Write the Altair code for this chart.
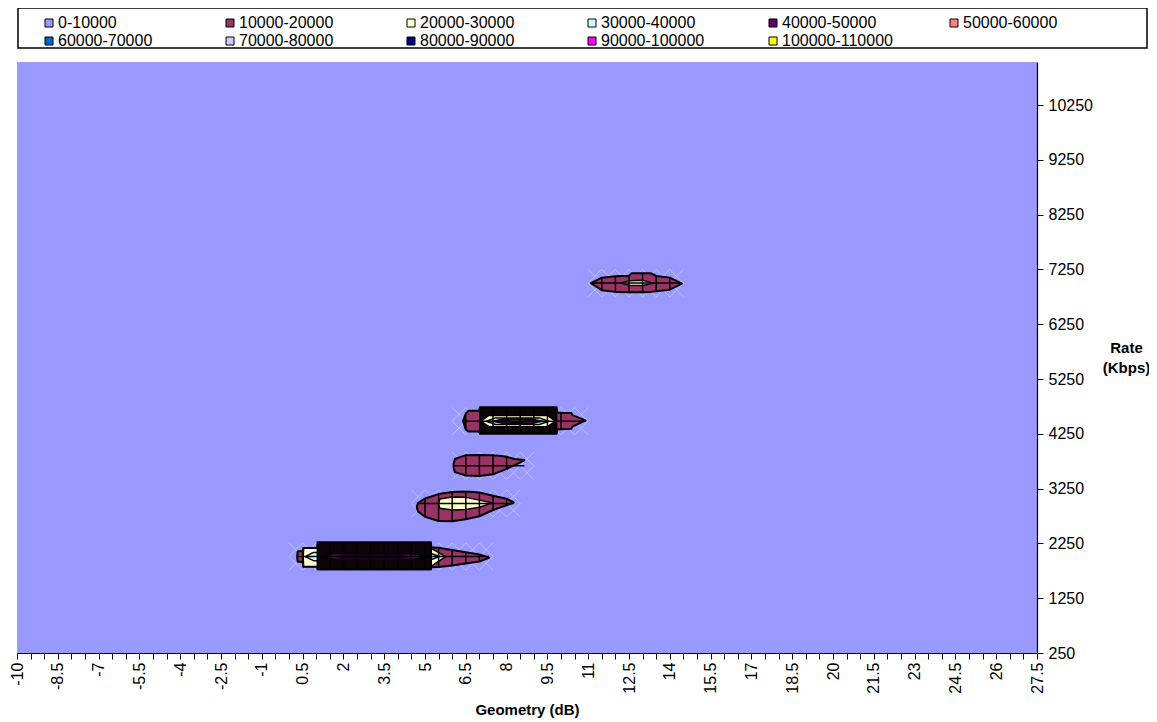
import altair as alt
import pandas as pd

# ---------------- legend bands ----------------
band_labels = ["0-10000", "10000-20000", "20000-30000", "30000-40000", "40000-50000",
               "50000-60000", "60000-70000", "70000-80000", "80000-90000",
               "90000-100000", "100000-110000"]
band_colors = ["#9999FF", "#993366", "#FFFFCC", "#CCFFFF", "#660066", "#FF8080",
               "#0066CC", "#CCCCFF", "#000080", "#FF00FF", "#FFFF00"]

# ---------------- axes ----------------
x_tick_values = [-10 + 0.5 * i for i in range(76)]
y_tick_values = [250, 1250, 2250, 3250, 4250, 5250, 6250, 7250, 8250, 9250, 10250]

# ---------------- contour shapes (x, upper Kbps, lower Kbps) ----------------
# blob at ~7000 Kbps
s1_outer_x = [11.1, 11.5, 12.0, 12.5, 12.6, 13.0, 13.3, 13.5, 14.0, 14.45]
s1_outer_t = [7000, 7100, 7125, 7135, 7180, 7180, 7180, 7130, 7100, 6990]
s1_outer_b = [7000, 6870, 6840, 6835, 6835, 6835, 6840, 6850, 6880, 6990]
s1_cream_x = [12.2, 12.5, 13.0, 13.4]
s1_cream_t = [7000, 7045, 7050, 7000]
s1_cream_b = [7000, 6960, 6955, 7000]

# blob at ~4500 Kbps
s2_outer_x = [6.4, 6.5, 6.6, 6.98, 7.02, 7.5, 8.0, 8.5, 9.0, 9.5, 9.83, 9.87, 10.0, 10.38, 10.42, 10.9]
s2_outer_t = [4485, 4620, 4670, 4670, 4730, 4730, 4730, 4730, 4730, 4730, 4730, 4640, 4635, 4630, 4590, 4495]
s2_outer_b = [4485, 4330, 4290, 4290, 4255, 4255, 4255, 4255, 4255, 4255, 4255, 4330, 4335, 4340, 4380, 4495]
s2_body_x = [7.02, 9.83]
s2_body_t = [4730, 4730]
s2_body_b = [4255, 4255]
s2_cream_x = [7.05, 7.35, 9.5, 9.8]
s2_cream_t = [4480, 4585, 4585, 4480]
s2_cream_b = [4480, 4380, 4380, 4480]
s2_cyan_x = [7.25, 7.6, 9.2, 9.55]
s2_cyan_t = [4480, 4540, 4540, 4480]
s2_cyan_b = [4480, 4420, 4420, 4480]
s2_purple_x = [7.5, 7.9, 8.9, 9.3]
s2_purple_t = [4480, 4520, 4520, 4480]
s2_purple_b = [4480, 4440, 4440, 4480]
s2_salmon_x = [7.9, 8.2, 8.6, 8.9]
s2_salmon_t = [4480, 4502, 4502, 4480]
s2_salmon_b = [4480, 4458, 4458, 4480]

# blob at ~3700 Kbps
s3_outer_x = [6.05, 6.1, 6.5, 7.0, 7.5, 7.8, 8.0, 8.3, 8.65]
s3_outer_t = [3700, 3790, 3860, 3865, 3860, 3845, 3830, 3790, 3770]
s3_outer_b = [3630, 3550, 3490, 3480, 3510, 3570, 3610, 3680, 3765]

# blob at ~3000 Kbps
s4_outer_x = [4.7, 4.75, 5.0, 5.5, 6.0, 6.5, 7.0, 7.5, 8.0, 8.26]
s4_outer_t = [2920, 2990, 3070, 3150, 3190, 3195, 3180, 3120, 3065, 3000]
s4_outer_b = [2900, 2830, 2735, 2660, 2655, 2690, 2745, 2860, 2945, 2995]
s4_cream_x = [5.5, 5.55, 6.0, 6.5, 7.0, 7.45]
s4_cream_t = [2990, 3060, 3095, 3090, 3040, 2990]
s4_cream_b = [2960, 2890, 2860, 2870, 2910, 2985]

# blob at ~2000 Kbps
s5_outer_x = [0.3, 0.32, 0.5, 0.52, 1.03, 1.07, 1.5, 2.0, 2.5, 3.0, 3.5, 4.0, 4.5, 5.0, 5.2, 5.24, 5.5, 6.0, 6.5, 7.0, 7.35]
s5_outer_t = [2010, 2105, 2105, 2165, 2165, 2265, 2265, 2265, 2265, 2265, 2265, 2265, 2265, 2265, 2265, 2180, 2170, 2130, 2090, 2050, 1990]
s5_outer_b = [2010, 1915, 1915, 1825, 1825, 1780, 1780, 1780, 1780, 1780, 1780, 1780, 1780, 1780, 1780, 1815, 1820, 1848, 1885, 1920, 1985]
s5_cream_x = [0.52, 0.54, 1.1, 5.2, 5.3, 5.75]
s5_cream_t = [2010, 2160, 2160, 2160, 2140, 2010]
s5_cream_b = [2010, 1830, 1830, 1830, 1860, 2005]
s5_cyan_x = [0.6, 0.9, 5.1, 5.55]
s5_cyan_t = [2010, 2085, 2085, 2010]
s5_cyan_b = [2010, 1935, 1935, 2010]
s5_body_x = [1.05, 5.22]
s5_body_t = [2265, 2265]
s5_body_b = [1780, 1780]
s5_purple_x = [1.2, 1.6, 4.6, 5.0]
s5_purple_t = [2010, 2060, 2060, 2010]
s5_purple_b = [2010, 1960, 1960, 2010]
s5_navy_x = [1.8, 2.2, 4.0, 4.4]
s5_navy_t = [2010, 2030, 2030, 2010]
s5_navy_b = [2010, 1990, 1990, 2010]

# data rows through each blob (and the cell range they cover)
row_y = [7000, 4480, 3665, 2980, 2010]
row_x0 = [11.1, 6.4, 6.05, 4.7, 0.3]
row_x1 = [14.45, 10.9, 8.65, 8.26, 7.35]
cell_x0 = [11.0, 6.0, 6.0, 4.5, 0.0]
cell_x1 = [14.5, 11.0, 9.0, 8.5, 7.5]
ROW_STEP = 250
CELL_W = 0.5

# (name, band, drawing level, x, top, bottom)
shape_defs = [
    ("s1o", "10000-20000", 0, s1_outer_x, s1_outer_t, s1_outer_b),
    ("s2o", "10000-20000", 0, s2_outer_x, s2_outer_t, s2_outer_b),
    ("s3o", "10000-20000", 0, s3_outer_x, s3_outer_t, s3_outer_b),
    ("s4o", "10000-20000", 0, s4_outer_x, s4_outer_t, s4_outer_b),
    ("s5o", "10000-20000", 0, s5_outer_x, s5_outer_t, s5_outer_b),
    ("s1c", "20000-30000", 1, s1_cream_x, s1_cream_t, s1_cream_b),
    ("s4c", "20000-30000", 1, s4_cream_x, s4_cream_t, s4_cream_b),
    ("s5c", "20000-30000", 1, s5_cream_x, s5_cream_t, s5_cream_b),
    ("s5y", "30000-40000", 2, s5_cyan_x, s5_cyan_t, s5_cyan_b),
    ("s2k", "body", 3, s2_body_x, s2_body_t, s2_body_b),
    ("s5k", "body", 3, s5_body_x, s5_body_t, s5_body_b),
    ("s2c", "20000-30000", 4, s2_cream_x, s2_cream_t, s2_cream_b),
    ("s2y", "30000-40000", 5, s2_cyan_x, s2_cyan_t, s2_cyan_b),
    ("s2p", "40000-50000", 6, s2_purple_x, s2_purple_t, s2_purple_b),
    ("s5p", "40000-50000", 6, s5_purple_x, s5_purple_t, s5_purple_b),
    ("s2s", "50000-60000", 7, s2_salmon_x, s2_salmon_t, s2_salmon_b),
    ("s5n", "80000-90000", 7, s5_navy_x, s5_navy_t, s5_navy_b),
]

rows = []
for name, band, level, xs, ts, bs in shape_defs:
    for xv, tv, bv in zip(xs, ts, bs):
        rows.append({"shape": name, "band": band, "level": level, "x": xv, "top": tv, "bottom": bv})
shapes = pd.DataFrame(rows)
row_df = pd.DataFrame({"row": row_y, "x0": row_x0, "x1": row_x1})

# faint surface wireframe (cell diagonals next to each data row)
wire = []
for ry, c0, c1 in zip(row_y, cell_x0, cell_x1):
    n = int(round((c1 - c0) / CELL_W))
    for i in range(n):
        xa = c0 + i * CELL_W
        xb = xa + CELL_W
        for side in (-1, 1):
            yo = ry + side * ROW_STEP
            wire.append({"xa": xa, "xb": xb, "ya": yo, "yb": ry})
            wire.append({"xa": xa, "xb": xb, "ya": ry, "yb": yo})
wire_df = pd.DataFrame(wire)

# ---------------- layout ----------------
FONT = "Liberation Sans"
W, H = 1020, 591

x_scale = alt.Scale(domain=[-10, 27.5], nice=False, zero=False)
y_scale = alt.Scale(domain=[250, 11035], nice=False, zero=False)

x_axis = alt.Axis(
    values=x_tick_values,
    labelExpr="(round((datum.value + 10) * 2) % 3 == 0) ? ('' + datum.value) : ''",
    labelAngle=-90, labelOverlap=False, labelFlush=False, labelPadding=3,
    labelFont=FONT, labelFontSize=16, labelColor="black",
    tickSize=6, tickColor="black", tickWidth=1,
    domainColor="black", domainWidth=1.2, grid=False,
    title="Geometry (dB)", titleFont=FONT, titleFontSize=15, titleFontWeight="bold",
    titleColor="black", titleY=56, titleBaseline="middle",
)
y_axis = alt.Axis(
    orient="right", values=y_tick_values, format="d",
    labelPadding=5, labelFont=FONT, labelFontSize=16, labelColor="black",
    tickSize=6, tickColor="black", tickWidth=1,
    domainColor="black", domainWidth=1.2, grid=False,
    title=["Rate", "(Kbps)"], titleAngle=0, titleX=89, titleY=285,
    titleAlign="center", titleBaseline="middle", titleLineHeight=20,
    titleFont=FONT, titleFontSize=15, titleFontWeight="bold", titleColor="black",
)

color_enc = alt.Color(
    "band:N",
    scale=alt.Scale(domain=band_labels, range=band_colors),
    legend=alt.Legend(
        title=None, orient="none", legendX=24, legendY=-47, columns=6, direction="horizontal",
        gridAlign="all", columnPadding=53, rowPadding=2,
        symbolType="square", symbolSize=64, symbolStrokeColor="black", symbolStrokeWidth=1,
        symbolOpacity=1, labelFont=FONT, labelFontSize=16, labelColor="black", labelOffset=1,
        labelLimit=300,
    ),
)

X = alt.X("x:Q", scale=x_scale, axis=x_axis)
Y_top = alt.Y("top:Q", scale=y_scale, axis=y_axis)

base = alt.Chart(shapes)


def band_layer(level, sw):
    return base.transform_filter(f"datum.level == {level}").mark_area(
        stroke="black", strokeWidth=sw, strokeJoin="round", opacity=1, interpolate="linear"
    ).encode(x=X, y=Y_top, y2="bottom:Q", color=color_enc, detail="shape:N")


legend_box = alt.Chart(pd.DataFrame({"k": [0]})).mark_rect(
    fill="white", stroke="black", strokeWidth=1.5
).encode(x=alt.value(1), x2=alt.value(1130), y=alt.value(-54), y2=alt.value(-14))

wireframe = alt.Chart(wire_df).mark_rule(color="#C8C8FF", strokeWidth=1, opacity=0.8).encode(
    x=alt.X("xa:Q", scale=x_scale, axis=x_axis), x2="xb:Q",
    y=alt.Y("ya:Q", scale=y_scale, axis=y_axis), y2="yb:Q",
)

bodies = base.transform_filter("datum.level == 3").mark_area(
    fill="#0c0408", stroke="black", strokeWidth=2, opacity=1
).encode(x=X, y=Y_top, y2="bottom:Q", detail="shape:N")

mesh = base.transform_filter(
    "datum.level == 0 && abs(datum.x * 2 - round(datum.x * 2)) < 0.001 && (datum.top - datum.bottom) > 30"
).mark_rule(color="black", strokeWidth=1.5).encode(x=X, y=Y_top, y2="bottom:Q")

row_lines = alt.Chart(row_df).mark_rule(color="black", strokeWidth=1.5).encode(
    x=alt.X("x0:Q", scale=x_scale, axis=x_axis), x2="x1:Q",
    y=alt.Y("row:Q", scale=y_scale, axis=y_axis),
)

chart = alt.layer(
    legend_box,
    wireframe,
    band_layer(0, 2),
    band_layer(1, 1.5),
    band_layer(2, 1.5),
    bodies,
    band_layer(4, 1.5),
    band_layer(5, 1.5),
    band_layer(6, 1.5),
    band_layer(7, 1.2),
    mesh,
    row_lines,
).properties(
    width=W, height=H,
    padding={"left": 9, "top": 54, "right": 112, "bottom": 66},
    autosize=alt.AutoSizeParams(type="none"),
).configure_view(
    fill="#9999FF", stroke=None
)

chart.save("out.html", embed_options={"renderer": "svg", "actions": False})
